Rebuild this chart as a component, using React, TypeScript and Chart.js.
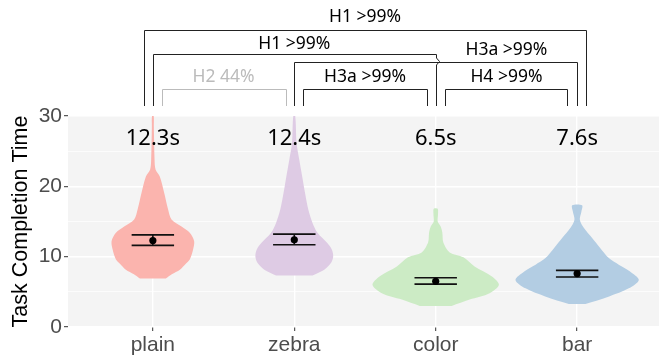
import React, { useEffect, useRef } from 'react';
import { Chart, registerables } from 'chart.js';

Chart.register(...registerables);

// ---------- data ----------
const categories = ['plain', 'zebra', 'color', 'bar'];
const means = [12.3, 12.4, 6.5, 7.6];
const ciLow = [11.6, 11.7, 6.1, 7.1];
const ciHigh = [13.1, 13.2, 7.0, 8.05];
const meanLabels = ['12.3s', '12.4s', '6.5s', '7.6s'];
const violinColors = ['#FBB4AE', '#DECBE4', '#CCEBC5', '#B3CDE3'];
const yTickValues = [0, 10, 20, 30];

// violin half-widths (in category units) at given time levels
const plainLevels = [6.9, 7.5, 8.15, 9.0, 9.6, 11.0, 12.2, 13.4, 14.3, 15.3, 16.7, 19.1, 21.4, 22.4, 23.8, 28.5, 30];
const plainWidths = [0.092, 0.134, 0.191, 0.233, 0.261, 0.284, 0.292, 0.261, 0.203, 0.132, 0.108, 0.08, 0.049, 0.019, 0.012, 0.007, 0.006];
const zebraLevels = [7.34, 8.15, 9.1, 10.04, 11.0, 11.9, 13.4, 14.8, 16.7, 19.05, 21.4, 23.8, 26.2, 30];
const zebraWidths = [0.129, 0.212, 0.259, 0.275, 0.266, 0.235, 0.164, 0.129, 0.099, 0.076, 0.056, 0.035, 0.016, 0.007];
const colorLevels = [3.0, 3.9, 4.8, 6.0, 7.2, 8.6, 9.9, 10.6, 12.0, 13.4, 14.3, 15.0, 16.0, 16.8];
const colorWidths = [0.113, 0.24, 0.381, 0.447, 0.395, 0.275, 0.196, 0.099, 0.054, 0.047, 0.035, 0.014, 0.016, 0.014];
const barLevels = [3.27, 4.35, 5.5, 6.7, 7.9, 8.86, 9.8, 11.2, 12.65, 14.1, 15.25, 16.4, 17.3];
const barWidths = [0.059, 0.226, 0.365, 0.436, 0.374, 0.294, 0.224, 0.164, 0.106, 0.047, 0.019, 0.03, 0.035];

const violinLevels = [plainLevels, zebraLevels, colorLevels, barLevels];
const violinWidths = [plainWidths, zebraWidths, colorWidths, barWidths];

// significance brackets (category indices, 1-based)
const bracketLabels = ['H1 >99%', 'H1 >99%', 'H3a >99%', 'H2 44%', 'H3a >99%', 'H4 >99%'];
const bracketStart = [1, 1, 2, 1, 2, 3];
const bracketEnd = [4, 3, 4, 2, 3, 4];
const bracketLabelAt = [2.5, 2, 3.5, 1.5, 2.5, 3.5];
const bracketColors = ['#222222', '#222222', '#222222', '#BBBBBB', '#222222', '#222222'];

// ---------- layout (pixels) ----------
const bracketLineY = [30, 54, 62, 88.5, 88.5, 88.5];
const bracketTextY = [17, 44, 50, 77, 77, 77];
const bracketStartOffset = [-9, 0, 0, 9.5, 9, 9.5];
const bracketEndOffset = [9, 0, 0, -8.5, -8.5, -10];
const bracketBottom = 106;
const ERR_HALF = 0.15;
const LABEL_LEVEL = 26.8;

function violinPoints(center: number, levels: number[], widths: number[]) {
  const right = levels.map((y, k) => ({ x: center + widths[k], y }));
  const left = levels.map((y, k) => ({ x: center - widths[k], y })).reverse();
  return right.concat(left);
}

function errorPoints(center: number, lo: number, hi: number) {
  return [
    { x: center - ERR_HALF, y: hi },
    { x: center + ERR_HALF, y: hi },
    { x: center, y: null },
    { x: center, y: hi },
    { x: center, y: lo },
    { x: center, y: null },
    { x: center - ERR_HALF, y: lo },
    { x: center + ERR_HALF, y: lo },
  ];
}

const panelBg = {
  id: 'panelBg',
  beforeDraw(chart: any) {
    const { ctx, chartArea: a } = chart;
    ctx.save();
    ctx.fillStyle = '#F4F4F4';
    ctx.fillRect(a.left, a.top, a.right - a.left, a.bottom - a.top);
    ctx.restore();
  },
};

const annotations = {
  id: 'annotations',
  afterDraw(chart: any) {
    const { ctx } = chart;
    const xs = chart.scales.x;
    const ys = chart.scales.y;
    ctx.save();
    // mean labels
    ctx.fillStyle = '#000';
    ctx.font = '22px "Noto Sans"';
    ctx.textAlign = 'center';
    ctx.textBaseline = 'middle';
    meanLabels.forEach((t, i) => {
      ctx.fillText(t, xs.getPixelForValue(i + 1), ys.getPixelForValue(LABEL_LEVEL));
    });
    // brackets
    ctx.lineWidth = 1;
    ctx.font = '17.5px "Noto Sans"';
    bracketLabels.forEach((t, k) => {
      const x1 = Math.round(xs.getPixelForValue(bracketStart[k]) + bracketStartOffset[k]) + 0.5;
      const x2 = Math.round(xs.getPixelForValue(bracketEnd[k]) + bracketEndOffset[k]) + 0.5;
      const y = Math.round(bracketLineY[k]) + 0.5;
      ctx.strokeStyle = bracketColors[k];
      ctx.beginPath();
      ctx.moveTo(x1, bracketBottom);
      ctx.lineTo(x1, y);
      ctx.lineTo(x2, y);
      if (k === 1) {
        ctx.lineTo(x2, 58);
        ctx.lineTo(x2 + 3, 61.5);
        ctx.lineTo(x2, 65);
      }
      ctx.lineTo(x2, bracketBottom);
      ctx.stroke();
      ctx.fillStyle = bracketColors[k] === '#BBBBBB' ? '#BBBBBB' : '#000';
      ctx.fillText(t, xs.getPixelForValue(bracketLabelAt[k]), bracketTextY[k]);
    });
    ctx.restore();
  },
};

export default function App() {
  const ref = useRef<HTMLCanvasElement>(null);
  useEffect(() => {
    const datasets: any[] = [];
    categories.forEach((c, i) => {
      datasets.push({
        label: c + ' mean',
        data: [{ x: i + 1, y: means[i] }],
        pointRadius: 3.6,
        pointBackgroundColor: '#000',
        pointBorderWidth: 0,
        showLine: false,
        order: 0,
      });
      datasets.push({
        label: c + ' ci',
        data: errorPoints(i + 1, ciLow[i], ciHigh[i]),
        showLine: true,
        spanGaps: false,
        borderColor: '#111',
        borderWidth: 1.6,
        pointRadius: 0,
        order: 1,
      });
      datasets.push({
        label: c,
        data: violinPoints(i + 1, violinLevels[i], violinWidths[i]),
        showLine: true,
        fill: 'shape',
        backgroundColor: violinColors[i],
        borderColor: violinColors[i],
        borderWidth: 0,
        pointRadius: 0,
        tension: 0.3,
        order: 2,
      });
    });
    const chart = new Chart(ref.current as HTMLCanvasElement, {
      type: 'scatter',
      data: { datasets },
      options: {
        animation: false,
        responsive: false,
        devicePixelRatio: 1,
        layout: { padding: { top: 116, right: 3, left: 0, bottom: 0 } },
        plugins: { legend: { display: false }, tooltip: { enabled: false } },
        scales: {
          x: {
            type: 'linear',
            min: 0.4,
            max: 4.6,
            afterFit: (s: any) => { s.height = 31; },
            border: { display: false },
            grid: { color: '#FFFFFF', lineWidth: 1.4, tickColor: '#333333', tickLength: 4, tickWidth: 1 },
            ticks: {
              stepSize: 1,
              includeBounds: false,
              autoSkip: false,
              maxRotation: 0,
              padding: 2,
              color: '#4D4D4D',
              font: { family: 'Liberation Sans', size: 21 },
              callback: (v: any) => categories[Math.round(v) - 1] ?? '',
            },
          },
          y: {
            min: 0,
            max: 30,
            afterFit: (s: any) => { s.width = 68; },
            border: { display: false },
            grid: {
              color: '#FFFFFF',
              lineWidth: (c: any) => (c.tick && c.tick.value % 10 === 0 ? 1.4 : 0.7),
              tickColor: (c: any) => (c.tick && c.tick.value % 10 === 0 ? '#333333' : 'rgba(0,0,0,0)'),
              tickLength: 4,
              tickWidth: 1,
            },
            ticks: {
              stepSize: 5,
              padding: 2,
              color: '#4D4D4D',
              font: { family: 'Liberation Sans', size: 21 },
              callback: (v: any) => (yTickValues.includes(v) ? String(v) : ''),
            },
            title: {
              display: true,
              text: 'Task Completion Time',
              color: '#000000',
              font: { family: 'Liberation Sans', size: 21.5 },
              padding: { top: 8, bottom: 0 },
            },
          },
        },
      },
      plugins: [panelBg, annotations],
    } as any);
    return () => chart.destroy();
  }, []);
  return (
    <div style={{ position: 'absolute', left: 0, top: 0, width: 659, height: 358, overflow: 'hidden', background: '#fff' }}>
      <canvas ref={ref} width={666} height={358} style={{ display: 'block', width: 666, height: 358 }} />
    </div>
  );
}
